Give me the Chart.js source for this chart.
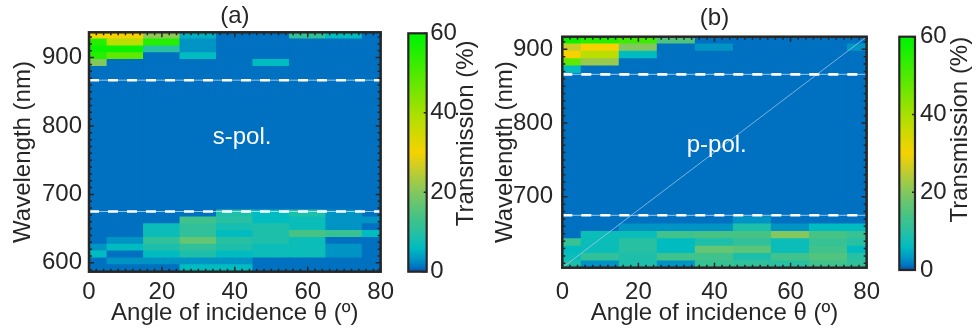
<!DOCTYPE html>
<html>
<head>
<meta charset="utf-8">
<script src="https://cdn.jsdelivr.net/npm/chart.js@4.4.0/dist/chart.umd.min.js"></script>
<style>
  body { margin: 0; background: #fff; }
  #fig { position: relative; width: 976px; height: 335px; overflow: hidden; }
  #fig canvas { position: absolute; top: 0; }
</style>
</head>
<body>
<div id="fig">
  <canvas id="heatA" width="400" height="335" style="left:0px"></canvas>
  <canvas id="cbarA" width="80" height="335" style="left:400px"></canvas>
  <canvas id="heatB" width="420" height="335" style="left:470px"></canvas>
  <canvas id="cbarB" width="86" height="335" style="left:890px"></canvas>
</div>
<script>
// ---- data ----
const angles = [0, 10, 20, 30, 40, 50, 60, 70, 80];
const xTicks = [0, 20, 40, 60, 80];
const yTicksA = [600, 700, 800, 900];
const yTicksB = [700, 800, 900];
const yRangeA = [587, 937];
const yRangeB = [604, 917];

// wavelength bin edges (nm), bottom to top
const rowEdgesA = [587, 597, 607, 617, 627, 637, 647, 657, 667, 677, 887, 897, 907, 917, 927, 937];
// transmission (%) per bin, one value per angle
const transA = [
  [1, 1, 1, 6, 6, 1, 1, 1, 1],
  [1, 3, 3, 3, 3, 1, 1, 1, 1],
  [6, 1, 6, 9, 6, 7, 7, 3, 1],
  [3, 6, 9, 11, 9, 7, 7, 3, 1],
  [1, 3, 11, 17, 10, 9, 7, 1, 1],
  [1, 1, 7, 11, 6, 9, 14, 12, 6],
  [1, 1, 7, 11, 8, 9, 7, 3, 1],
  [1, 1, 1, 13, 10, 6, 7, 3, 3],
  [1, 1, 1, 1, 9, 6, 9, 3, 1],
  [1, 1, 1, 1, 1, 1, 1, 1, 1],
  [20, 1, 1, 1, 1, 6, 1, 1, 1],
  [55, 48, 1, 6, 1, 1, 1, 1, 1],
  [58, 58, 10, 3, 1, 1, 1, 1, 1],
  [55, 38, 55, 3, 1, 1, 1, 1, 1],
  [30, 30, 21, 5, 1, 1, 11, 6, 1]
];

const rowEdgesB = [603, 613, 623, 633, 643, 653, 663, 673, 867, 877, 887, 897, 907, 917];
const transB = [
  [9, 3, 9, 3, 12, 11, 10, 13, 11],
  [7, 11, 9, 13, 13, 9, 13, 15, 10],
  [6, 7, 10, 6, 17, 16, 7, 13, 6],
  [12, 7, 10, 6, 9, 11, 7, 12, 10],
  [1, 7, 7, 13, 14, 14, 20, 14, 12],
  [1, 1, 3, 3, 3, 9, 3, 6, 6],
  [1, 1, 1, 1, 1, 3, 1, 1, 1],
  [1, 1, 1, 1, 1, 1, 1, 1, 1],
  [6, 1, 1, 1, 1, 1, 1, 1, 1],
  [48, 22, 1, 1, 1, 1, 1, 1, 1],
  [30, 38, 6, 1, 1, 1, 1, 1, 1],
  [26, 30, 20, 1, 3, 1, 1, 1, 3],
  [58, 55, 52, 15, 1, 1, 1, 1, 1]
];

const bandEdgesA = [675, 867];
const bandEdgesB = [675, 866];
const diagB = [[0, 604], [80, 917]];
const cbarRange = [0, 60];
const cbarTicks = [0, 20, 40, 60];

// ---- colour map ----
const cmapStops = [
  [0, 20, 72, 160], [1, 0, 112, 192], [3, 0, 148, 196], [6, 0, 188, 192],
  [10, 40, 192, 162], [14, 70, 195, 132], [20, 130, 200, 95], [26, 200, 205, 40],
  [30, 245, 210, 0], [38, 185, 222, 0], [48, 95, 232, 0], [58, 10, 242, 0], [60, 0, 245, 0]
];
function rgb(s) { return `rgb(${Math.round(s[1])},${Math.round(s[2])},${Math.round(s[3])})`; }
function cmap(v) {
  if (v <= cmapStops[0][0]) return rgb(cmapStops[0]);
  for (let i = 1; i < cmapStops.length; i++) {
    const b = cmapStops[i];
    if (v <= b[0]) {
      const a = cmapStops[i - 1];
      const t = (v - a[0]) / (b[0] - a[0]);
      return rgb([0, a[1] + t * (b[1] - a[1]), a[2] + t * (b[2] - a[2]), a[3] + t * (b[3] - a[3])]);
    }
  }
  return rgb(cmapStops[cmapStops.length - 1]);
}

const FONT = '"Liberation Sans", Arial, Helvetica, sans-serif';
const INK = '#262626';
Chart.defaults.font.family = FONT;
Chart.defaults.color = INK;

// box with inward minor/major ticks, drawn from the scales
const framePlugin = {
  id: 'frame',
  afterDatasetsDraw(chart, args, o) {
    const { ctx, chartArea: a, scales } = chart;
    ctx.save();
    ctx.strokeStyle = INK;
    ctx.lineWidth = 1.5;
    ctx.beginPath();
    if (o.x) {
      const s = scales.x;
      for (let v = Math.ceil(s.min / o.x.step) * o.x.step; v <= s.max; v += o.x.step) {
        const p = s.getPixelForValue(v);
        const len = v % o.x.major === 0 ? 5 : 3;
        ctx.moveTo(p, a.bottom); ctx.lineTo(p, a.bottom - len);
        ctx.moveTo(p, a.top); ctx.lineTo(p, a.top + len);
      }
    }
    if (o.y) {
      const s = scales.y;
      for (let v = Math.ceil(s.min / o.y.step) * o.y.step; v <= s.max; v += o.y.step) {
        const p = s.getPixelForValue(v);
        const len = v % o.y.major === 0 ? 5 : 3;
        if (!o.y.rightOnly) { ctx.moveTo(a.left, p); ctx.lineTo(a.left + len, p); }
        ctx.moveTo(a.right, p); ctx.lineTo(a.right - len, p);
      }
    }
    ctx.stroke();
    ctx.lineWidth = o.width || 2.5;
    ctx.strokeRect(a.left, a.top, a.right - a.left, a.bottom - a.top);
    ctx.restore();
  }
};

// text placed in data coordinates
const notePlugin = {
  id: 'note',
  afterDatasetsDraw(chart, args, o) {
    if (!o.text) return;
    const { ctx, scales } = chart;
    ctx.save();
    ctx.font = `24px ${FONT}`;
    ctx.fillStyle = '#ffffff';
    ctx.textAlign = 'center';
    ctx.textBaseline = 'middle';
    ctx.fillText(o.text, scales.x.getPixelForValue(o.at[0]), scales.y.getPixelForValue(o.at[1]));
    ctx.restore();
  }
};

// colorbar label reading bottom to top, right of the ticks
const sideTitlePlugin = {
  id: 'sideTitle',
  afterDraw(chart, args, o) {
    if (!o.text) return;
    const { ctx, chartArea: a } = chart;
    ctx.save();
    ctx.translate(a.right + o.dx, a.top + o.dy);
    ctx.rotate(-Math.PI / 2);
    ctx.font = `24px ${FONT}`;
    ctx.fillStyle = INK;
    ctx.textAlign = 'center';
    ctx.textBaseline = 'middle';
    ctx.fillText(o.text, 0, 0);
    ctx.restore();
  }
};

function heatmap(id, cfg) {
  const datasets = [];
  cfg.edges.slice(0, -1).forEach((lo, r) => {
    const hi = cfg.edges[r + 1];
    datasets.push({
      type: 'bar',
      order: 3,
      grouped: false,
      data: angles.map(a => ({ x: a, y: [lo, hi] })),
      backgroundColor: cfg.values[r].map(cmap),
      borderWidth: 0,
      barPercentage: 1,
      categoryPercentage: 1,
      inflateAmount: 0.6
    });
  });
  if (cfg.diag) {
    datasets.push({
      type: 'line', order: 2,
      data: cfg.diag.map(p => ({ x: p[0], y: p[1] })),
      borderColor: 'rgba(170,205,235,0.9)', borderWidth: 0.8, pointRadius: 0
    });
  }
  cfg.bands.forEach(w => {
    const seg = xTicks.filter((v, i) => i === 0 || i === xTicks.length - 1).map(x => ({ x, y: w }));
    datasets.push({
      type: 'line', order: 1, data: seg,
      borderColor: 'rgba(215,235,250,0.7)', borderWidth: 1, pointRadius: 0
    });
    datasets.push({
      type: 'line', order: 0, data: seg,
      borderColor: '#ffffff', borderWidth: 2.6, borderDash: [10, 9], pointRadius: 0
    });
  });

  return new Chart(document.getElementById(id), {
    type: 'bar',
    data: { datasets },
    plugins: [notePlugin, framePlugin],
    options: {
      responsive: false,
      animation: false,
      layout: { padding: { left: 0, right: cfg.padRight, top: 0, bottom: 0 } },
      plugins: {
        legend: { display: false },
        tooltip: { enabled: false },
        title: {
          display: true, text: cfg.title, fullSize: false,
          font: { size: 24, weight: 'normal' }, color: INK,
          padding: cfg.titlePad
        },
        note: cfg.note,
        frame: { x: { step: 2, major: 20 }, y: { step: 10, major: 100 } }
      },
      scales: {
        x: {
          type: 'linear', min: 0, max: 80, offset: false,
          afterBuildTicks: s => { s.ticks = xTicks.map(v => ({ value: v })); },
          afterFit: s => { s.height = cfg.xHeight; },
          grid: { display: false, drawTicks: false },
          border: { display: false },
          ticks: { font: { size: 24 }, color: INK, padding: cfg.xTickPad, maxRotation: 0 },
          title: { display: true, text: 'Angle of incidence θ (º)', font: { size: 24 }, color: INK, padding: { top: 0, bottom: 7 } }
        },
        y: {
          type: 'linear', min: cfg.yRange[0], max: cfg.yRange[1],
          afterBuildTicks: s => { s.ticks = cfg.yTicks.map(v => ({ value: v })); },
          afterFit: s => { s.width = cfg.yWidth; },
          grid: { display: false, drawTicks: false },
          border: { display: false },
          ticks: { font: { size: 24 }, color: INK, padding: cfg.yTickPad },
          title: { display: true, text: 'Wavelength (nm)', font: { size: 24 }, color: INK, padding: { top: cfg.yTitlePad, bottom: 0 } }
        }
      }
    }
  });
}

function colorbar(id, cfg) {
  return new Chart(document.getElementById(id), {
    type: 'bar',
    data: {
      labels: [''],
      datasets: [{
        data: [cbarRange],
        borderWidth: 0,
        barPercentage: 1,
        categoryPercentage: 1,
        backgroundColor: c => {
          const y = c.chart.scales.y;
          if (!c.chart.chartArea || !y) return cmap(0);
          const g = c.chart.ctx.createLinearGradient(0, y.getPixelForValue(cbarRange[0]), 0, y.getPixelForValue(cbarRange[1]));
          cmapStops.forEach(s => g.addColorStop((s[0] - cbarRange[0]) / (cbarRange[1] - cbarRange[0]), rgb(s)));
          return g;
        }
      }]
    },
    plugins: [framePlugin, sideTitlePlugin],
    options: {
      responsive: false,
      animation: false,
      layout: { padding: { left: cfg.padLeft, right: 0, top: cfg.padTop, bottom: cfg.padBottom } },
      plugins: {
        legend: { display: false },
        tooltip: { enabled: false },
        frame: { y: { step: 20, major: 1000, rightOnly: true }, width: 2.2 },
        sideTitle: { text: 'Transmission (%)', dx: cfg.titleDx, dy: cfg.titleDy }
      },
      scales: {
        x: { type: 'category', display: false },
        y: {
          position: 'right', min: cbarRange[0], max: cbarRange[1],
          afterBuildTicks: s => { s.ticks = cbarTicks.map(v => ({ value: v })); },
          afterFit: s => { s.width = cfg.axisWidth; },
          grid: { display: false, drawTicks: false },
          border: { display: false },
          ticks: { font: { size: 24 }, color: INK, padding: cfg.tickPad }
        }
      }
    }
  });
}

heatmap('heatA', {
  title: '(a)', titlePad: { top: 2, bottom: 1.5 },
  edges: rowEdgesA, values: transA, bands: bandEdgesA,
  yRange: yRangeA, yTicks: yTicksA,
  padRight: 15, yWidth: 89, xHeight: 63.3,
  xTickPad: 6, yTickPad: 7, yTitlePad: 8.6,
  note: { text: 's-pol.', at: [42, 784] }
});
heatmap('heatB', {
  title: '(b)', titlePad: { top: 4, bottom: 3.9 },
  edges: rowEdgesB, values: transB, bands: bandEdgesB, diag: diagB,
  yRange: yRangeB, yTicks: yTicksB,
  padRight: 12.3, yWidth: 92.3, xHeight: 67.3,
  xTickPad: 10, yTickPad: 9.3, yTitlePad: 20.6,
  note: { text: 'p-pol.', at: [40.6, 770] }
});
colorbar('cbarA', { padLeft: 8.3, padTop: 33.3, padBottom: 63.3, axisWidth: 53.3, tickPad: 3.5, titleDx: 40, titleDy: 100 });
colorbar('cbarB', { padLeft: 9.3, padTop: 36.7, padBottom: 65, axisWidth: 61, tickPad: 5, titleDx: 45, titleDy: 93 });
</script>
</body>
</html>
